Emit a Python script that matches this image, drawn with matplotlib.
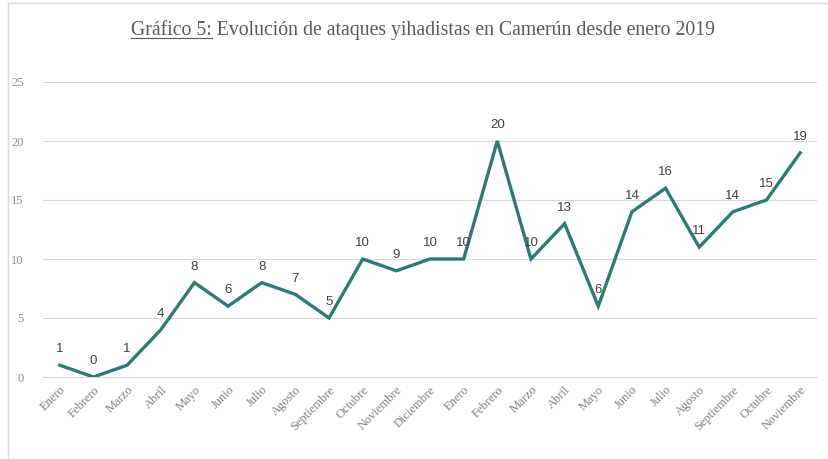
import matplotlib
matplotlib.use("Agg")
import matplotlib.pyplot as plt
from matplotlib.patches import Rectangle
from matplotlib.lines import Line2D

months = ["Enero", "Febrero", "Marzo", "Abril", "Mayo", "Junio", "Julio", "Agosto",
          "Septiembre", "Octubre", "Noviembre", "Diciembre",
          "Enero", "Febrero", "Marzo", "Abril", "Mayo", "Junio", "Julio", "Agosto",
          "Septiembre", "Octubre", "Noviembre"]
attacks = [1, 0, 1, 4, 8, 6, 8, 7, 5, 10, 9, 10, 10, 20, 10, 13, 6, 14, 16, 11, 14, 15, 19]
yticks = [0, 5, 10, 15, 20, 25]
title_prefix = "Gráfico 5:"
title_rest = " Evolución de ataques yihadistas en Camerún desde enero 2019"

W, H = 829, 459
fig = plt.figure(figsize=(W / 100, H / 100), dpi=100)
fig.patch.set_facecolor("white")

# outer frame
fig.add_artist(Rectangle((8 / W, 0), 1.2, (H - 3) / H, transform=fig.transFigure,
                         fill=False, edgecolor="#d9d9d9", lw=1))

ax = fig.add_axes([43 / W, (H - 377) / H, (817 - 43) / W, (377 - 82) / H])
x = list(range(len(attacks)))
ax.plot(x, attacks, color="#2E7B73", lw=2.4, solid_joinstyle="miter", zorder=3)
for xi, v in zip(x, attacks):
    ax.annotate(str(v), (xi, v), xytext=(0, 7), textcoords="offset points",
                ha="center", va="bottom", fontsize=9.5, color="#404040",
                family="Liberation Sans")

ax.set_xlim(-0.5, len(attacks) - 0.5)
ax.set_ylim(0, 25)
ax.set_yticks(yticks)
ax.set_yticklabels([str(t) for t in yticks], family="Liberation Serif", fontsize=9, color="#8c8c8c")
ax.set_xticks(x)
ax.set_xticklabels(months, rotation=45, ha="right", va="top", rotation_mode="anchor",
                   family="Liberation Serif", fontsize=9, color="#7f7f7f")
ax.tick_params(axis="both", length=0)
ax.tick_params(axis="y", pad=14)
ax.tick_params(axis="x", pad=5)
ax.grid(axis="y", color="#d9d9d9", lw=0.8)
ax.set_axisbelow(True)
for s in ["top", "right", "left"]:
    ax.spines[s].set_visible(False)
ax.spines["bottom"].set_color("#d9d9d9")

# title with underlined prefix
full = title_prefix + title_rest
tfs = 14.2
t = fig.text(423 / W, (H - 30) / H, full, ha="center", va="center", fontsize=tfs,
             family="Liberation Serif", color="#595959")
fig.canvas.draw()
r = fig.canvas.get_renderer()
bb = t.get_window_extent(r)
tp = fig.text(0, 0, title_prefix, fontsize=tfs, family="Liberation Serif")
pw = tp.get_window_extent(r).width
tp.remove()
uy = bb.y0 + 1.5
fig.add_artist(Line2D([bb.x0 / W, (bb.x0 + pw) / W], [uy / H, uy / H],
                      transform=fig.transFigure, color="#595959", lw=0.8))

fig.savefig("out.png", dpi=100)
